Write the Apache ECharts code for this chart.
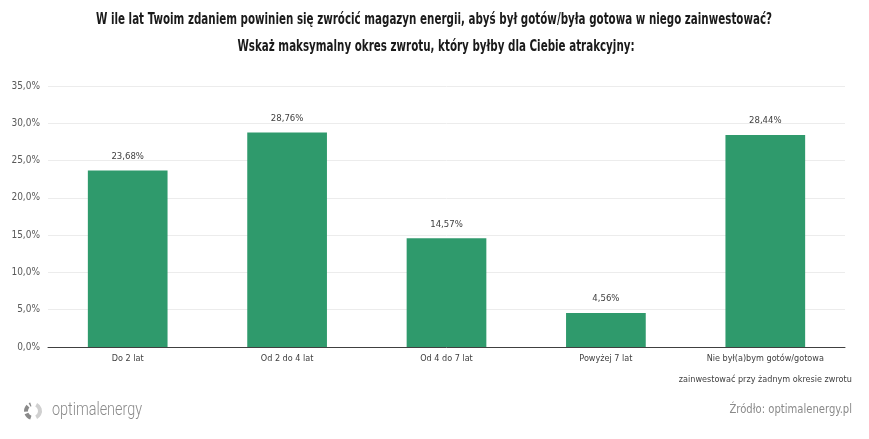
<!DOCTYPE html>
<html><head><meta charset="utf-8">
<script src="https://cdn.jsdelivr.net/npm/echarts@6/dist/echarts.min.js"></script>
<style>html,body{margin:0;padding:0;background:#fff}#c{width:869px;height:439px}</style>
</head><body><div id="c"></div>
<script>
const categories = ["Do 2 lat", "Od 2 do 4 lat", "Od 4 do 7 lat", "Powyżej 7 lat", "Nie był(a)bym gotów/gotowa\nzainwestować przy żadnym okresie zwrotu"];
const values = [23.68, 28.76, 14.57, 4.56, 28.44];
const titleLines = ["W ile lat Twoim zdaniem powinien się zwrócić magazyn energii, abyś był gotów/była gotowa w niego zainwestować?", "Wskaż maksymalny okres zwrotu, który byłby dla Ciebie atrakcyjny:"];
const sourceText = "Źródło: optimalenergy.pl";
const logoText = "optimalenergy";

const fmt = v => v.toFixed(2).replace('.', ',') + '%';
const FONT = '"DejaVu Sans Condensed", "Liberation Sans Narrow", sans-serif';
const chart = echarts.init(document.getElementById('c'));
chart.setOption({
  animation: false,
  textStyle: {fontFamily: FONT},
  grid: {left: 48, right: 24, top: 86, bottom: 92},
  xAxis: {
    type: 'category', data: categories,
    axisTick: {show: false},
    axisLine: {lineStyle: {color: '#404040', width: 1}},
    axisLabel: {interval: 0, color: '#404040', fontSize: 9, margin: 1, lineHeight: 21, fontFamily: FONT}
  },
  yAxis: {
    type: 'value', min: 0, max: 35, interval: 5,
    axisLabel: {formatter: v => v.toFixed(1).replace('.', ',') + '%', color: '#595959', fontSize: 10, fontFamily: FONT, margin: 8},
    splitLine: {lineStyle: {color: '#ececec'}},
    axisLine: {show: false}, axisTick: {show: false}
  },
  series: [{
    type: 'bar', data: values, barWidth: '50%',
    itemStyle: {color: '#2f9a6c'},
    label: {show: true, position: 'top', distance: 9, formatter: p => fmt(p.value), color: '#404040', fontSize: 9.5, fontFamily: FONT}
  }],
  graphic: [
    {type: 'text', x: 434, y: 20, scaleX: 0.765, style: {text: titleLines[0], align: 'center', verticalAlign: 'middle', font: 'bold 15px ' + FONT, fill: '#1a1a1a'}},
    {type: 'text', x: 436, y: 47, scaleX: 0.765, style: {text: titleLines[1], align: 'center', verticalAlign: 'middle', font: 'bold 15px ' + FONT, fill: '#1a1a1a'}},
    {type: 'text', x: 52, y: 410, scaleX: 0.8, style: {text: logoText, align: 'left', verticalAlign: 'middle', font: '300 18px Roboto, ' + FONT, fill: '#8a8a8a'}},
    {type: 'arc', shape: {cx: 33, cy: 411, r: 7, startAngle: Math.PI * 0.6, endAngle: Math.PI * 1.4}, style: {stroke: '#8a8a8a', lineWidth: 4, fill: 'none', lineDash: [6, 2]}},
    {type: 'arc', shape: {cx: 33, cy: 411, r: 7, startAngle: -Math.PI * 0.35, endAngle: Math.PI * 0.35}, style: {stroke: '#d0d0d0', lineWidth: 4, fill: 'none'}},
    {type: 'text', x: 852, y: 410, scaleX: 0.93, style: {text: sourceText, align: 'right', verticalAlign: 'middle', font: '12px ' + FONT, fill: '#8a8a8a'}}
  ]
});
</script></body></html>
